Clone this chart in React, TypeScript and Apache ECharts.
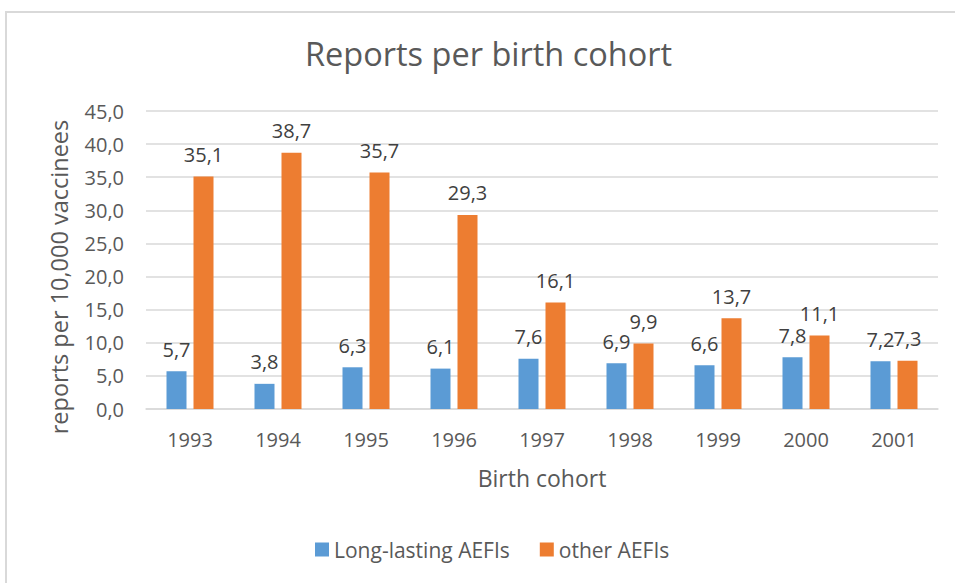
import React, { useEffect, useRef } from "react";
import * as echarts from "echarts";

const categories = ["1993", "1994", "1995", "1996", "1997", "1998", "1999", "2000", "2001"];
const longLasting = [5.7, 3.8, 6.3, 6.1, 7.6, 6.9, 6.6, 7.8, 7.2];
const otherAefis = [35.1, 38.7, 35.7, 29.3, 16.1, 9.9, 13.7, 11.1, 7.3];
const seriesNames = ["Long-lasting AEFIs", "other AEFIs"];

const FONT = "Open Sans";
const TXT = "#595959";
const fmt = (v: number) => v.toFixed(1).replace(".", ",");

export default function App() {
  const ref = useRef<HTMLDivElement>(null);
  useEffect(() => {
    const chart = echarts.init(ref.current!, null, { renderer: "svg" });
    const labelCfg = {
      show: true,
      position: "top",
      distance: 12,
      fontFamily: FONT,
      fontSize: 20,
      color: "#404040",
      formatter: (p: any) => fmt(p.value),
    };
    chart.setOption({
      animation: false,
      backgroundColor: "#ffffff",
      textStyle: { fontFamily: FONT },
      graphic: [
        {
          type: "rect",
          shape: { x: 6, y: 12, width: 1000, height: 700 },
          style: { fill: "none", stroke: "#D9D9D9", lineWidth: 2 },
          silent: true,
        },
      ],
      title: {
        text: "Reports per birth cohort",
        left: 300,
        top: 32,
        textStyle: { fontFamily: FONT, fontSize: 32.5, fontWeight: "normal", color: TXT },
      },
      legend: {
        bottom: 18,
        left: 310,
        itemWidth: 14,
        itemHeight: 14,
        itemGap: 30,
        icon: "rect",
        textStyle: { fontFamily: FONT, fontSize: 21, color: TXT },
        data: seriesNames,
      },
      grid: { left: 146, right: 17, top: 111, bottom: 174 },
      xAxis: {
        type: "category",
        data: categories,
        name: "Birth cohort",
        nameLocation: "middle",
        nameGap: 57,
        nameTextStyle: { fontFamily: FONT, fontSize: 23, color: TXT },
        axisLine: { show: true, lineStyle: { color: "#D9D9D9", width: 1.5 } },
        axisTick: { show: false },
        axisLabel: { fontFamily: FONT, fontSize: 20, color: TXT, margin: 20 },
      },
      yAxis: {
        type: "value",
        min: 0,
        max: 45,
        interval: 5,
        name: "reports per 10,000 vaccinees",
        nameLocation: "middle",
        nameGap: 75,
        nameTextStyle: { fontFamily: FONT, fontSize: 23.5, color: TXT, padding: [0, 34, 0, 0] },
        axisLine: { show: false },
        axisTick: { show: false },
        axisLabel: { fontFamily: FONT, fontSize: 20, color: TXT, margin: 22, formatter: (v: number) => fmt(v) },
        splitLine: { lineStyle: { color: "#D9D9D9", width: 1.5 } },
      },
      series: [
        {
          name: seriesNames[0],
          type: "bar",
          data: longLasting,
          barWidth: 20,
          barGap: "35%",
          itemStyle: { color: "#5B9BD5" },
          label: labelCfg,
        },
        {
          name: seriesNames[1],
          type: "bar",
          data: otherAefis,
          barWidth: 20,
          itemStyle: { color: "#ED7D31" },
          label: labelCfg,
        },
      ],
    });
    return () => chart.dispose();
  }, []);
  return (
    <div
      ref={ref}
      style={{ position: "fixed", left: 0, top: 0, width: 955, height: 583, background: "#fff" }}
    />
  );
}
